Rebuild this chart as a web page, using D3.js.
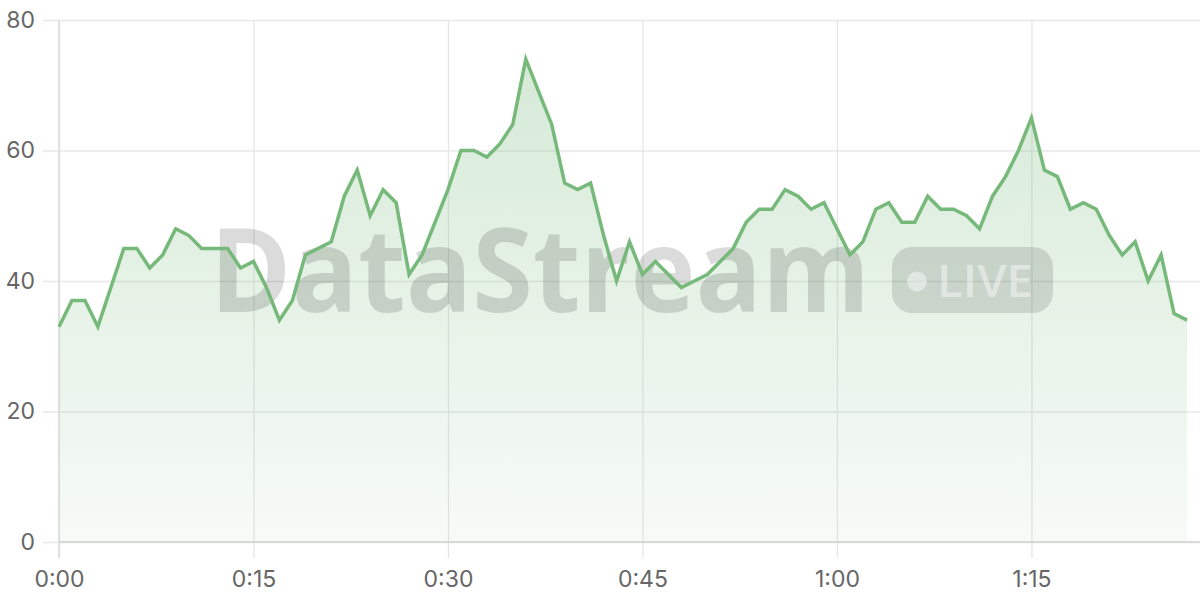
<!DOCTYPE html>
<html><head><meta charset="utf-8">
<script src="https://cdn.jsdelivr.net/npm/d3@7"></script>
<style>html,body{margin:0;padding:0;background:#fff;}svg{display:block;}</style>
</head><body>
<svg id="chart" width="1200" height="600"></svg>
<script>
const minutes = d3.range(0, 88);
const values = [33,37,37,33,39,45,45,42,44,48,47,45,45,45,42,43,39,34,37,44,
  45,46,53,57,50,54,52,41,44,49,54,60,60,59,61,64,74,69,64,55,
  54,55,47,40,46,41,43,41,39,40,41,43,45,49,51,51,54,53,51,52,
  48,44,46,51,52,49,49,53,51,51,50,48,53,56,60,65,57,56,51,52,
  51,47,44,46,40,44,35,34];
const yTicks = [0,20,40,60,80];
const xTicks = [0,15,30,45,60,75];
const xTickLabels = ["0:00","0:15","0:30","0:45","1:00","1:15"];
const watermarkText = "DataStream";
const badgeText = "LIVE";

const svg = d3.select("#chart");
const m = {left:59, right:0, top:20, bottom:58};
const W = 1200, H = 600;
const x = d3.scaleLinear().domain([0,88]).range([m.left, W - m.right]);
const y = d3.scaleLinear().domain([0,80]).range([H - m.bottom, m.top]);
const data = minutes.map((t,i)=>({t, v: values[i]}));

const defs = svg.append("defs");
const grad = defs.append("linearGradient").attr("id","fillGrad")
  .attr("gradientUnits","userSpaceOnUse")
  .attr("x1",0).attr("x2",0).attr("y1",y(80)).attr("y2",y(0));
grad.append("stop").attr("offset","0%").attr("stop-color","#76b97a").attr("stop-opacity",0.32);
grad.append("stop").attr("offset","100%").attr("stop-color","#76b97a").attr("stop-opacity",0.06);

const font = "Inter, 'Open Sans', sans-serif";

// y grid + axis
const yAxis = svg.append("g").attr("transform",`translate(${m.left},0)`)
  .call(d3.axisLeft(y).tickValues(yTicks).tickSize(-(W - m.left) ).tickPadding(0));
yAxis.select(".domain").remove();
yAxis.selectAll(".tick line").attr("stroke","#e8e8e8").attr("stroke-width",1.3).attr("x1",-16);
yAxis.selectAll(".tick text").attr("x",-24).attr("fill","#666").attr("font-size",23).attr("font-family",font);

// x grid + axis
const xAxis = svg.append("g").attr("transform",`translate(0,${H - m.bottom})`)
  .call(d3.axisBottom(x).tickValues(xTicks).tickFormat((d,i)=>xTickLabels[i]).tickSize(16).tickPadding(13));
xAxis.select(".domain").remove();
xAxis.selectAll(".tick line").attr("stroke","#e6e6e6").attr("stroke-width",1.3)
  .attr("y1", -(H - m.bottom - m.top));
xAxis.selectAll(".tick text").attr("fill","#666").attr("font-size",23).attr("font-family",font);

// area
const area = d3.area().x(d=>x(d.t)).y0(y(0)).y1(d=>y(d.v));
svg.append("path").datum(data).attr("d",area).attr("fill","url(#fillGrad)");

// axis lines
svg.append("line").attr("x1",m.left).attr("x2",W).attr("y1",y(0)).attr("y2",y(0))
  .attr("stroke","#d0d0d0").attr("stroke-width",1.5);
svg.append("line").attr("x1",m.left).attr("x2",m.left).attr("y1",y(80)).attr("y2",y(0)+16)
  .attr("stroke","#dadada").attr("stroke-width",1.5);

// watermark
const wm = svg.append("g").attr("pointer-events","none");
wm.append("text").attr("x",210).attr("y",312).text(watermarkText)
  .attr("font-family","'Open Sans', 'Liberation Sans', sans-serif").attr("font-weight",700)
  .attr("font-size",116).attr("textLength",660).attr("lengthAdjust","spacingAndGlyphs")
  .attr("fill","#000").attr("fill-opacity",0.14);
wm.append("rect").attr("x",892).attr("y",247).attr("width",161).attr("height",66).attr("rx",20)
  .attr("fill","#000").attr("fill-opacity",0.12);
wm.append("circle").attr("cx",917).attr("cy",281.5).attr("r",10).attr("fill","#fff").attr("fill-opacity",0.45);
wm.append("text").attr("x",937).attr("y",297).text(badgeText)
  .attr("font-family","'Open Sans', sans-serif").attr("font-weight",600)
  .attr("font-size",46).attr("textLength",96).attr("lengthAdjust","spacingAndGlyphs")
  .attr("fill","#fff").attr("fill-opacity",0.45);

// line
const line = d3.line().x(d=>x(d.t)).y(d=>y(d.v));
svg.append("path").datum(data).attr("d",line).attr("fill","none")
  .attr("stroke","#76b97a").attr("stroke-width",3.5).attr("stroke-linejoin","miter");
</script>
</body></html>
